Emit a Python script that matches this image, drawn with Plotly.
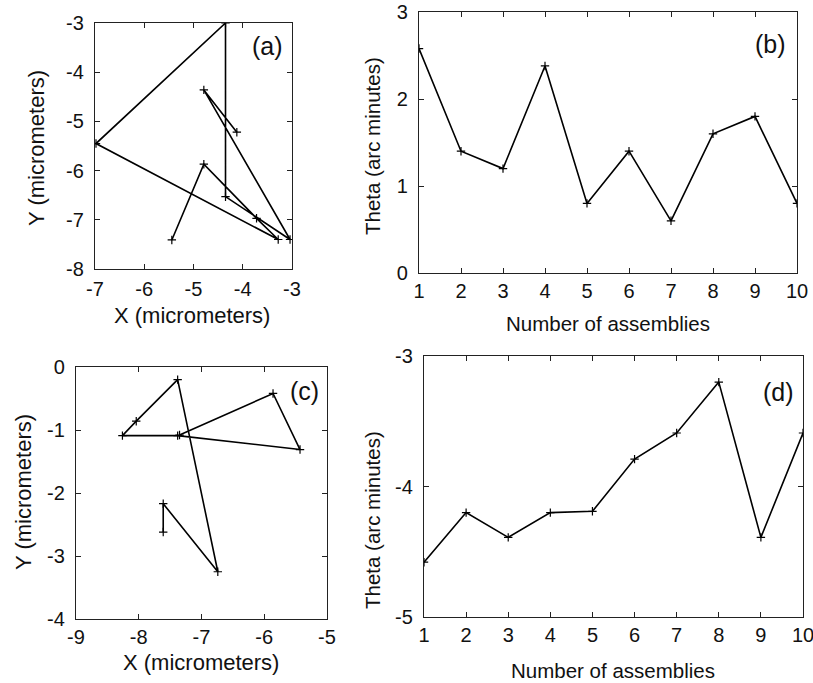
import plotly.graph_objects as go

# Panel (a): X/Y positions (micrometers)
a_x = [-5.44, -4.79, -3.72, -3.28, -6.98, -4.35, -4.35, -3.04, -4.79, -4.12]
a_y = [-7.41, -5.87, -6.97, -7.40, -5.45, -3.00, -6.53, -7.40, -4.36, -5.22]

# Panel (b): theta vs assembly number
assemblies = [1, 2, 3, 4, 5, 6, 7, 8, 9, 10]
b_theta = [2.58, 1.40, 1.20, 2.38, 0.80, 1.40, 0.60, 1.60, 1.80, 0.80]

# Panel (c): X/Y positions (micrometers)
c_x = [-7.61, -7.61, -6.74, -7.38, -8.04, -8.26, -7.38, -5.43, -5.86, -7.35]
c_y = [-2.62, -2.17, -3.25, -0.20, -0.86, -1.09, -1.09, -1.31, -0.42, -1.08]

# Panel (d): theta vs assembly number
d_theta = [-4.58, -4.20, -4.39, -4.20, -4.19, -3.79, -3.59, -3.20, -4.39, -3.59]

# Tick values and labels
a_xticks = [-7, -6, -5, -4, -3]
a_yticks = [-8, -7, -6, -5, -4, -3]
b_yticks = [0, 1, 2, 3]
c_xticks = [-9, -8, -7, -6, -5]
c_yticks = [-4, -3, -2, -1, 0]
d_yticks = [-5, -4, -3]

W, H = 813, 683
FONT = "Liberation Sans, Arial, sans-serif"

def px_x(p):
    return p / W

def px_y(p):
    return 1 - p / H

line = dict(color="black", width=1.6)
marker = dict(symbol="cross-thin", size=6, line=dict(color="black", width=1.2))

fig = go.Figure()
fig.add_trace(go.Scatter(x=a_x, y=a_y, mode="lines+markers", line=line, marker=marker,
                         xaxis="x", yaxis="y", showlegend=False))
fig.add_trace(go.Scatter(x=assemblies, y=b_theta, mode="lines+markers", line=line, marker=marker,
                         xaxis="x2", yaxis="y2", showlegend=False))
fig.add_trace(go.Scatter(x=c_x, y=c_y, mode="lines+markers", line=line, marker=marker,
                         xaxis="x3", yaxis="y3", showlegend=False))
fig.add_trace(go.Scatter(x=assemblies, y=d_theta, mode="lines+markers", line=line, marker=marker,
                         xaxis="x4", yaxis="y4", showlegend=False))

def ax(domain, rng, ticks, anchor, standoff=0):
    return dict(domain=domain, range=rng, anchor=anchor, automargin=False,
                tickmode="array", tickvals=ticks, ticktext=[str(t) for t in ticks],
                showline=True, mirror="allticks", linecolor="#222", linewidth=1.3,
                ticks="inside", ticklen=5, tickcolor="#222", tickwidth=1,
                ticklabelstandoff=standoff, ticklabeloverflow="allow",
                showgrid=False, zeroline=False,
                tickfont=dict(family=FONT, size=20, color="#111"))

fig.update_layout(
    width=W, height=H, autosize=False,
    margin=dict(l=0, r=0, t=0, b=0),
    paper_bgcolor="white", plot_bgcolor="white",
    xaxis=ax([px_x(95), px_x(292)], [-7, -3], a_xticks, "y", 2),
    yaxis=ax([px_y(269), px_y(23)], [-8, -3], a_yticks, "x", 6),
    xaxis2=ax([px_x(419), px_x(797)], [1, 10], assemblies, "y2", 0),
    yaxis2=ax([px_y(273), px_y(12)], [0, 3], b_yticks, "x2", 6),
    xaxis3=ax([px_x(76), px_x(327)], [-9, -5], c_xticks, "y3", 0),
    yaxis3=ax([px_y(619), px_y(367)], [-4, 0], c_yticks, "x3", 6),
    xaxis4=ax([px_x(424), px_x(803)], [1, 10], assemblies, "y4", 0),
    yaxis4=ax([px_y(617), px_y(356)], [-5, -3], d_yticks, "x4", 6),
)

def label(text, cx, cy, size, angle=0):
    fig.add_annotation(text=text, x=px_x(cx), y=px_y(cy), xref="paper", yref="paper",
                       xanchor="center", yanchor="middle", showarrow=False, textangle=angle,
                       font=dict(family=FONT, size=size, color="#111"))

label("X (micrometers)", 192, 315, 22)
label("Y (micrometers)", 36, 148, 22, -90)
label("Number of assemblies", 608, 323, 20.5)
label("Theta (arc minutes)", 372, 146, 20.5, -90)
label("X (micrometers)", 201, 662, 22)
label("Y (micrometers)", 23, 492, 22, -90)
label("Number of assemblies", 613, 670, 20.5)
label("Theta (arc minutes)", 372, 520, 20.5, -90)

label("(a)", 267, 46, 25)
label("(b)", 770, 44, 25)
label("(c)", 304, 391, 25)
label("(d)", 778, 392, 25)

fig.write_html(
    "out.html",
    config={"displayModeBar": False},
    post_script="document.documentElement.style.margin='0';document.body.style.margin='0';"
                "document.body.style.overflow='hidden';",
)
